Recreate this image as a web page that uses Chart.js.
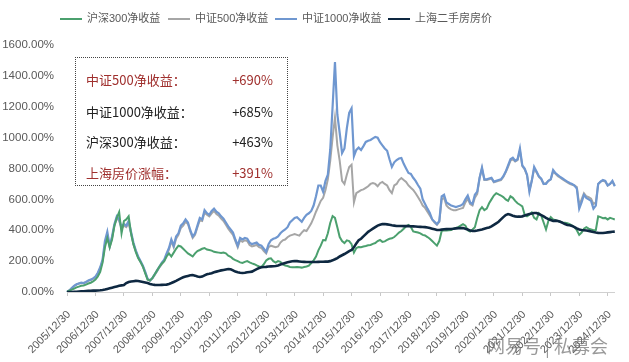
<!DOCTYPE html>
<html><head><meta charset="utf-8">
<script src="https://cdn.jsdelivr.net/npm/chart.js@4"></script>
<style>
html,body{margin:0;padding:0;background:#fff;}
#wrap{position:relative;width:629px;height:362px;overflow:hidden;background:#fff;}
canvas{position:absolute;left:0;top:0;}
.lg{position:absolute;top:11px;height:14px;font:11px "Liberation Sans","Noto Sans CJK SC",sans-serif;color:#595959;white-space:nowrap;line-height:14px;}
.lg i{position:absolute;left:0;top:7px;width:22px;display:block;}
.lg span{position:absolute;left:27px;top:0;}
#box{position:absolute;left:75px;top:57px;width:211px;height:127px;border:1px dotted #444;font:13px "Noto Sans CJK SC","Microsoft YaHei",sans-serif;}
.row{position:absolute;left:10px;right:14px;height:18px;line-height:18px;}
.row .v{position:absolute;right:0;top:0;}
#wm{position:absolute;left:487px;top:332px;font:18px "Noto Sans CJK SC",sans-serif;color:rgba(110,110,110,0.7);white-space:nowrap;}
</style></head>
<body><div id="wrap"><canvas id="c" width="629" height="362"></canvas><div id="legend"></div><div id="box"></div><div id="wm">网易号 | 私募会</div></div>
<script>
const seriesNames = ['沪深300净收益','中证500净收益','中证1000净收益','上海二手房房价'];
const seriesColors = ['#4BA06E','#A6A6A6','#6F97D0','#0E2841'];
const yearTicks = ['2005/12/30','2006/12/30','2007/12/30','2008/12/30','2009/12/30','2010/12/30','2011/12/30','2012/12/30','2013/12/30','2014/12/30','2015/12/30','2016/12/30','2017/12/30','2018/12/30','2019/12/30','2020/12/30','2021/12/30','2022/12/30','2023/12/30','2024/12/30'];
const boxLabels = ['中证500净收益：','中证1000净收益：','沪深300净收益：','上海房价涨幅：'];
const boxValues = ['+690%','+685%','+463%','+391%'];
const boxColors = ['#A0302E','#222222','#222222','#A0302E'];

const csi300 = [
0,8,15,22,30,35,40,42,48,55,60,68,
80,100,130,190,290,350,290,340,430,480,518,380,
460,470,490,380,310,260,220,195,165,120,80,75,
90,115,140,165,185,200,230,250,230,255,280,300,
295,280,265,250,240,230,250,265,272,280,285,275,
272,268,260,258,255,252,255,250,235,228,215,207,
200,192,188,195,200,192,185,180,172,165,162,180,
205,215,218,200,190,200,195,178,172,168,162,160,
160,162,160,158,162,165,170,188,205,230,270,300,
337,335,380,447,492,480,420,356,330,317,335,330,
310,255,285,292,290,295,298,303,305,312,317,330,
337,325,328,337,345,348,356,370,385,395,410,425,
434,421,392,389,385,380,370,366,356,345,330,315,
300,330,395,400,398,400,402,410,415,420,430,440,
430,400,392,405,420,480,530,550,530,540,575,600,
625,640,632,625,615,600,590,620,610,590,575,565,
555,500,490,500,515,480,470,510,495,450,405,460,
485,470,465,460,455,450,448,445,440,430,420,400,
370,385,410,420,410,405,400,400,490,485,478,480,
470,480,475,470];
const csi500 = [
0,10,25,38,48,55,58,57,63,72,78,85,
95,120,150,200,310,370,290,350,430,480,460,410,
430,420,445,380,310,265,225,195,165,125,82,72,
88,110,135,160,180,200,240,275,330,290,345,370,
415,430,455,440,390,350,370,420,465,460,515,500,
490,510,525,505,495,475,460,435,410,390,370,330,
290,335,325,335,330,305,295,300,305,290,285,265,
250,290,300,295,290,295,320,335,340,355,365,370,
375,370,365,385,400,395,420,445,480,520,555,590,
610,660,730,850,1000,1130,950,850,720,700,760,810,
825,580,640,650,660,665,675,685,700,706,700,685,
705,713,700,690,660,641,690,700,725,738,725,713,
690,675,661,640,615,590,560,545,520,495,470,450,
435,455,600,610,560,545,535,530,530,535,540,545,
580,605,570,560,610,635,740,800,725,725,730,735,
710,715,720,725,745,775,810,850,860,845,855,915,
815,795,755,660,720,800,775,745,730,700,705,720,
730,780,765,750,740,730,720,710,700,695,690,680,
565,600,640,620,615,605,570,580,700,715,720,715,
690,700,715,690];
const csi1000 = [
0,10,25,40,50,55,60,58,65,75,80,88,
100,125,160,210,330,390,300,360,440,490,470,420,
440,430,460,390,320,270,230,200,170,130,85,75,
90,115,140,165,190,210,250,285,340,300,360,380,
430,445,470,450,400,360,380,430,480,470,530,510,
500,525,540,520,510,490,475,450,425,405,385,340,
300,350,340,350,345,320,310,315,320,305,300,280,
260,310,335,345,350,360,380,395,405,420,450,465,
480,485,470,455,480,500,510,525,560,620,690,690,
650,720,760,920,1200,1490,1150,1030,900,930,1060,1160,
1190,880,920,935,920,945,972,980,985,995,1005,1000,
970,950,930,915,860,810,840,855,865,868,830,800,
771,765,740,720,693,670,600,570,540,512,470,455,
440,460,620,630,580,570,560,555,550,555,560,570,
600,625,580,570,630,650,740,805,730,730,735,740,
715,720,725,730,750,780,820,860,870,850,860,930,
820,800,760,650,720,810,780,750,735,700,700,720,
730,790,770,758,745,735,725,715,706,700,690,670,
540,580,630,610,600,590,540,560,700,715,725,720,
690,700,720,685];
const housePrice = [
0,0,0,1,2,3,4,5,6,7,8,9,
9,10,11,13,16,20,24,28,32,36,40,43,
45,58,65,68,70,72,71,68,65,62,58,52,
48,46,45,45,46,47,48,52,58,65,72,80,
88,95,100,104,108,110,106,100,97,100,108,115,
118,122,128,132,136,140,143,146,149,147,140,132,
128,125,123,125,128,130,132,140,148,155,160,162,
163,165,166,167,168,172,178,183,188,192,196,199,
201,200,198,196,195,194,194,194,194,194,195,196,
196,197,197,200,205,212,220,230,238,246,255,265,
272,290,315,335,345,360,375,390,400,410,420,430,
435,440,440,438,435,432,430,428,428,428,427,427,
427,426,425,424,423,422,421,420,418,414,410,406,
402,402,404,406,407,408,408,410,412,414,415,414,
410,405,398,395,396,398,402,405,410,415,418,425,
435,445,455,470,485,498,505,500,494,490,488,488,
490,495,500,505,508,512,512,505,498,490,480,472,
466,460,462,460,455,448,440,434,432,428,420,412,
405,402,400,398,396,392,388,385,383,382,382,384,
386,388,390,391];

// monthly categories, Dec 2005 .. Mar 2025; year-end ones use the tick labels
const labels = [];
for (let i = 0; i < csi300.length; i++) {
  const m = (11 + i) % 12 + 1, y = 2005 + Math.floor((11 + i) / 12);
  labels.push(m === 12 ? y + '/12/30' : y + '/' + String(m).padStart(2,'0'));
}

// HTML legend from series names/colours
const lgLeft = [60, 168, 275, 388];
const lgWidth = [2, 2, 2, 2.5];
const legend = document.getElementById('legend');
seriesNames.forEach((n, k) => {
  const d = document.createElement('div'); d.className = 'lg'; d.style.left = lgLeft[k] + 'px';
  d.innerHTML = '<i style="border-top:' + lgWidth[k] + 'px solid ' + seriesColors[k] + '"></i><span>' + n + '</span>';
  legend.appendChild(d);
});
const rowTop = [13, 45, 75, 106];
const box = document.getElementById('box');
boxLabels.forEach((t, k) => {
  const r = document.createElement('div'); r.className = 'row'; r.style.top = rowTop[k] + 'px'; r.style.color = boxColors[k];
  r.innerHTML = '<span>' + t + '</span><span class="v">' + boxValues[k] + '</span>';
  box.appendChild(r);
});

const seriesData = [csi300, csi500, csi1000, housePrice];
const orders = [1, 3, 2, 0];
const widths = [2, 2, 2.2, 2.6];
new Chart(document.getElementById('c'), {
  type: 'line',
  data: {
    labels: labels,
    datasets: seriesData.map((d, k) => ({
      label: seriesNames[k], data: d, borderColor: seriesColors[k], backgroundColor: seriesColors[k],
      borderWidth: widths[k], pointRadius: 0, tension: 0, order: orders[k], fill: false
    }))
  },
  options: {
    responsive: false, animation: false, devicePixelRatio: 1,
    layout: { padding: { top: 45, right: 0, left: 0, bottom: 0 } },
    plugins: { legend: { display: false }, tooltip: { enabled: false } },
    scales: {
      x: {
        type: 'category', offset: false,
        grid: { display: true, drawOnChartArea: false, tickLength: 4, color: '#c8c8c8' },
        border: { display: true, color: '#d0d0d0' },
        ticks: {
          autoSkip: false, maxRotation: 45, minRotation: 45, padding: 12, labelOffset: 2,
          font: { size: 11, family: 'Liberation Sans' }, color: '#595959',
          callback: function (v, i) { const l = this.getLabelForValue(v); return yearTicks.includes(l) ? l : null; }
        },
        afterFit: s => { s.height = 70; }
      },
      y: {
        min: 0, max: 1600,
        grid: { display: false }, border: { display: false },
        ticks: { stepSize: 200, padding: 5, font: { size: 11.5, family: 'Liberation Sans' }, color: '#595959',
          callback: v => v.toFixed(2) + '%' },
        afterFit: s => { s.width = 67; }
      }
    }
  }
});
</script></body></html>
